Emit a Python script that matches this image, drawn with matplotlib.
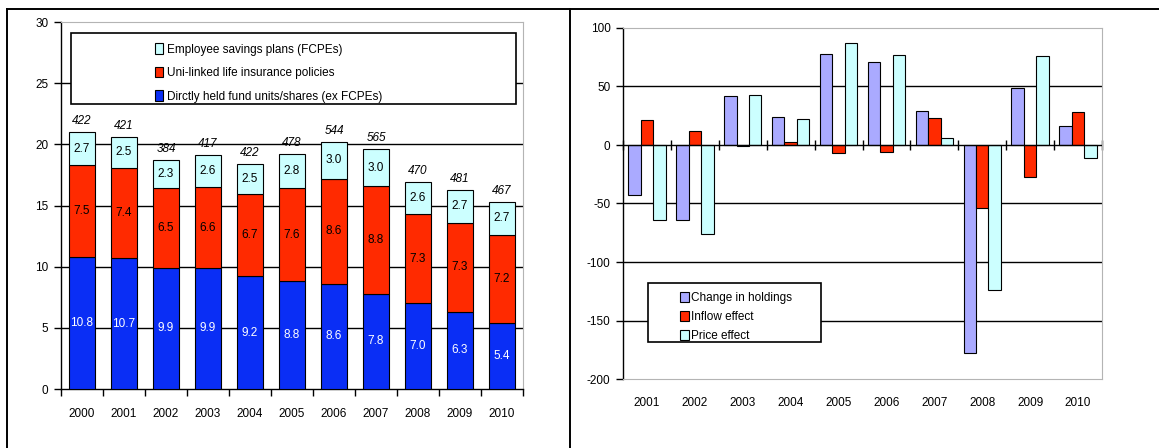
import numpy as np
import matplotlib
matplotlib.use("Agg")
import matplotlib.pyplot as plt
from matplotlib.lines import Line2D
from matplotlib.patches import Rectangle

plt.rcParams['font.family'] = ['Liberation Sans', 'DejaVu Sans']
plt.rcParams['axes.unicode_minus'] = False

# --- datos panel izquierdo ---
years_left = ['2000', '2001', '2002', '2003', '2004', '2005', '2006', '2007', '2008', '2009', '2010']
direct_units = [10.8, 10.7, 9.9, 9.9, 9.2, 8.8, 8.6, 7.8, 7.0, 6.3, 5.4]
unit_linked = [7.5, 7.4, 6.5, 6.6, 6.7, 7.6, 8.6, 8.8, 7.3, 7.3, 7.2]
employee_plans = [2.7, 2.5, 2.3, 2.6, 2.5, 2.8, 3.0, 3.0, 2.6, 2.7, 2.7]
totals_label = ['422', '421', '384', '417', '422', '478', '544', '565', '470', '481', '467']

# --- datos panel derecho ---
years_right = ['2001', '2002', '2003', '2004', '2005', '2006', '2007', '2008', '2009', '2010']
change_holdings = [-43, -64, 42, 24, 78, 71, 29, -178, 49, 16]
inflow_effect = [21, 12, -1, 2.5, -7, -6, 23, -54, -27, 28]
price_effect = [-64, -76, 43, 22, 87, 77, 6, -124, 76, -11]

BLUE = '#0A2EF5'
RED = '#FF2A00'
CYAN = '#CCFFFF'
LAVENDER = '#AAAAFF'
GRAY = '#B4B4B4'

W, H = 1159, 448
fig = plt.figure(figsize=(W / 100, H / 100), dpi=100)


def px_axes(x0, y0, x1, y1):
    # y0 = pixel de arriba, y1 = pixel de abajo
    return fig.add_axes([x0 / W, (H - y1) / H, (x1 - x0) / W, (y1 - y0) / H])


# marco de la tabla
fig.add_artist(Line2D([6.5 / W, 1.0], [1 - 9.5 / H, 1 - 9.5 / H], color='black', lw=1.4))
fig.add_artist(Line2D([6.5 / W, 6.5 / W], [0, 1 - 9.5 / H], color='black', lw=1.4))
fig.add_artist(Line2D([570 / W, 570 / W], [0, 1 - 9.5 / H], color='black', lw=1.4))

# ---------------- panel izquierdo ----------------
ax1 = px_axes(61, 22, 523, 389)
x = np.arange(len(years_left))
bw = 0.62
b1 = ax1.bar(x, direct_units, bw, color=BLUE, edgecolor='black', lw=0.8, zorder=3,
             label='Dirctly held fund units/shares (ex FCPEs)')
bottom2 = np.array(direct_units)
b2 = ax1.bar(x, unit_linked, bw, bottom=bottom2, color=RED, edgecolor='black', lw=0.8, zorder=3,
             label='Uni-linked life insurance policies')
bottom3 = bottom2 + np.array(unit_linked)
b3 = ax1.bar(x, employee_plans, bw, bottom=bottom3, color=CYAN, edgecolor='black', lw=0.8, zorder=3,
             label='Employee savings plans (FCPEs)')

ax1.bar_label(b1, fmt='%.1f', label_type='center', color='white', fontsize=8.5, zorder=4)
ax1.bar_label(b2, fmt='%.1f', label_type='center', color='black', fontsize=8.5, zorder=4)
ax1.bar_label(b3, fmt='%.1f', label_type='center', color='black', fontsize=8.5, zorder=4)
ax1.bar_label(b3, labels=totals_label, padding=3.5, fontsize=8.5, style='italic', zorder=4)

ax1.set_xlim(-0.5, len(years_left) - 0.5)
ax1.set_ylim(0, 30)
ax1.set_yticks(np.arange(0, 31, 5))
ax1.set_xticks(x)
ax1.set_xticklabels(years_left)
ax1.set_xticks(np.arange(-0.5, len(years_left)), minor=True)
ax1.tick_params(axis='x', which='major', length=0, pad=14, labelsize=8.5)
ax1.tick_params(axis='x', which='minor', length=5, direction='out', width=1)
ax1.tick_params(axis='y', length=5, width=1, pad=4, labelsize=8.5)
for yv in [5, 10, 15, 20, 25]:
    ax1.axhline(yv, color='black', lw=1, zorder=1)
ax1.spines['top'].set_color(GRAY)
ax1.spines['right'].set_color(GRAY)
ax1.spines['left'].set_linewidth(1)
ax1.spines['bottom'].set_linewidth(1)

# leyenda izquierda con marco propio
ax1.add_patch(Rectangle((0.022, 0.777), 0.963, 0.193, transform=ax1.transAxes,
                        facecolor='white', edgecolor='black', lw=1.2, zorder=5))
h, l = ax1.get_legend_handles_labels()
leg1 = ax1.legend(h[::-1], l[::-1], loc='upper left', bbox_to_anchor=(0.183, 0.968),
                  frameon=False, fontsize=8.5, handlelength=0.7, handleheight=1.0,
                  handletextpad=0.3, labelspacing=0.95, borderpad=0.3)
leg1.set_zorder(6)

# ---------------- panel derecho ----------------
ax2 = px_axes(623, 28, 1102, 379)
xr = np.arange(len(years_right))
w = 0.26
bc = ax2.bar(xr - w, change_holdings, w, color=LAVENDER, edgecolor='black', lw=0.8, zorder=3,
             label='Change in holdings')
bi = ax2.bar(xr, inflow_effect, w, color=RED, edgecolor='black', lw=0.8, zorder=3,
             label='Inflow effect')
bp = ax2.bar(xr + w, price_effect, w, color=CYAN, edgecolor='black', lw=0.8, zorder=3,
             label='Price effect')

ymin, ymax = -200, 100
ax2.set_xlim(-0.5, len(years_right) - 0.5)
ax2.set_ylim(ymin, ymax)
ax2.set_yticks(np.arange(ymin, ymax + 1, 50))
ax2.set_xticks(xr)
ax2.set_xticklabels(years_right)
ax2.tick_params(axis='x', which='major', length=0, pad=13, labelsize=8.5)
ax2.tick_params(axis='y', length=5, width=1, pad=4, labelsize=8.5)
for yv in [50, -50, -100, -150]:
    ax2.axhline(yv, color='black', lw=1, zorder=1)
ax2.axhline(0, color='black', lw=1, zorder=4)
ax2.spines['top'].set_color(GRAY)
ax2.spines['right'].set_color(GRAY)
ax2.spines['bottom'].set_color(GRAY)
ax2.spines['left'].set_linewidth(1)

# marcas del eje en cero
zero_pos = (0 - ymin) / (ymax - ymin)
sec = ax2.secondary_xaxis(zero_pos)
sec.set_xticks(np.arange(-0.5, len(years_right)))
sec.tick_params(axis='x', direction='inout', length=7, width=1, labeltop=False, top=True)
sec.spines['top'].set_visible(False)

ax2.add_patch(Rectangle((0.052, 0.105), 0.361, 0.168, transform=ax2.transAxes,
                        facecolor='white', edgecolor='black', lw=1.2, zorder=5))
leg2 = ax2.legend(loc='upper left', bbox_to_anchor=(0.1, 0.275), frameon=False,
                  fontsize=8.5, handlelength=0.7, handleheight=1.0, handletextpad=0.2,
                  labelspacing=0.55, borderpad=0.3)
leg2.set_zorder(6)

fig.savefig('out.png', dpi=100)
